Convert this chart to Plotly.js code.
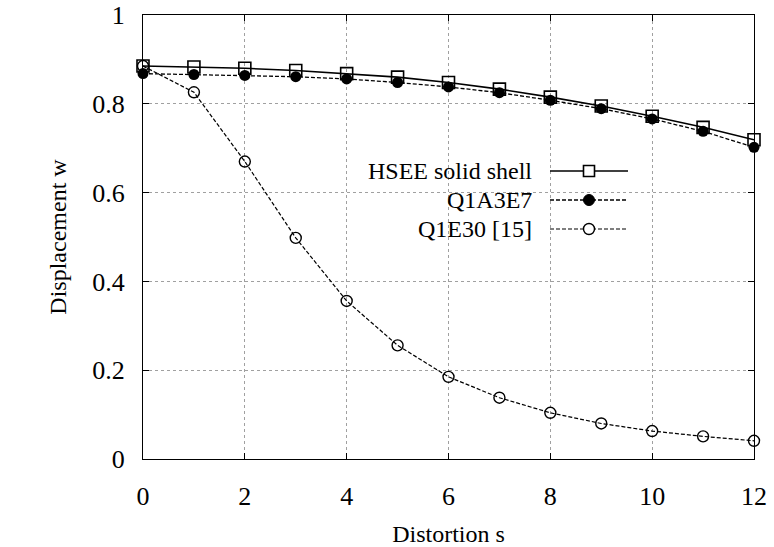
<!DOCTYPE html>
<html><head><meta charset="utf-8">
<script src="https://cdn.plot.ly/plotly-3.0.1.min.js"></script>
<style>html,body{margin:0;padding:0;background:#fff}</style>
</head><body><div id="chart" style="width:774px;height:547px"></div>
<script>
const distortion = [0,1,2,3,4,5,6,7,8,9,10,11,12];
const hsee = [0.885,0.883,0.880,0.875,0.868,0.860,0.848,0.833,0.815,0.795,0.772,0.747,0.719];
const q1a3e7 = [0.868,0.866,0.864,0.861,0.856,0.848,0.838,0.825,0.808,0.789,0.766,0.738,0.702];
const q1e30 = [0.885,0.826,0.670,0.498,0.356,0.256,0.185,0.138,0.104,0.080,0.063,0.051,0.041];
const seriesNames = ["HSEE solid shell","Q1A3E7","Q1E30 [15]"];
const xTicks = [0,2,4,6,8,10,12];
const yTicks = [0,0.2,0.4,0.6,0.8,1];
const yTickText = ["0","0.2","0.4","0.6","0.8","1"];

const FAM = "Times New Roman";
const traces = [
 {x:distortion,y:hsee,name:seriesNames[0],mode:"lines+markers",cliponaxis:false,
  line:{color:"#000",width:1.6},marker:{symbol:"square-open",size:12,color:"#000",line:{width:1.6}}},
 {x:distortion,y:q1a3e7,name:seriesNames[1],mode:"lines+markers",cliponaxis:false,
  line:{color:"#000",width:1.3,dash:"4px,2px"},marker:{symbol:"circle",size:11,color:"#000"}},
 {x:distortion,y:q1e30,name:seriesNames[2],mode:"lines+markers",cliponaxis:false,
  line:{color:"#000",width:1.2,dash:"4px,2px"},marker:{symbol:"circle-open",size:11,color:"#000",line:{width:1.4}}}
];

const PW = 774, PH = 547;
const plotL=143, plotR=754, plotT=15, plotB=459;
const styles = [{dash:"solid",w:1.6},{dash:"4px,2px",w:1.3},{dash:"4px,2px",w:1.2}];
const legY = [171,200,229];

const layout = {
  width:PW,height:PH,
  margin:{l:plotL,r:PW-plotR,t:plotT,b:PH-plotB},
  paper_bgcolor:"#fff",plot_bgcolor:"#fff",
  showlegend:false,
  font:{family:FAM,size:26,color:"#000"},
  xaxis:{range:[0,12],tickvals:xTicks,ticks:"inside",ticklen:6,tickcolor:"#000",
    showline:true,linecolor:"#000",linewidth:1,mirror:"ticks",
    showgrid:true,gridcolor:"#888",griddash:"dot",gridwidth:0.8,zeroline:false,
    ticklabelstandoff:14,tickfont:{family:FAM,size:26,color:"#000"},
    title:{text:"Distortion s",font:{family:FAM,size:24,color:"#000"},standoff:16}},
  yaxis:{range:[0,1],tickvals:yTicks,ticktext:yTickText,ticks:"inside",ticklen:6,tickcolor:"#000",
    showline:true,linecolor:"#000",linewidth:1,mirror:"ticks",
    showgrid:true,gridcolor:"#888",griddash:"dot",gridwidth:0.8,zeroline:false,
    ticklabelstandoff:12,tickfont:{family:FAM,size:26,color:"#000"},
    title:{text:"Displacement w",font:{family:FAM,size:24,color:"#000"},standoff:18}},
  annotations:[],shapes:[]
};
function px2x(p){return (p-plotL)/(plotR-plotL);}
function px2y(p){return (plotB-p)/(plotB-plotT);}
seriesNames.forEach((n,i)=>{
  const yy = px2y(legY[i]);
  layout.annotations.push({xref:"paper",yref:"paper",x:px2x(534),y:yy,text:n,showarrow:false,
    font:{family:FAM,size:24,color:"#000"},xanchor:"right",yanchor:"middle"});
  layout.shapes.push({type:"line",xref:"paper",yref:"paper",x0:px2x(550),x1:px2x(628),y0:yy,y1:yy,
    line:{color:"#000",width:styles[i].w,dash:styles[i].dash}});
});
const mx = px2x(589);
const rx = 5.5/(plotR-plotL), ry = 5.5/(plotB-plotT);
const ly0=px2y(legY[0]), ly1=px2y(legY[1]), ly2=px2y(legY[2]);
layout.shapes.push({type:"rect",xref:"paper",yref:"paper",x0:mx-rx,x1:mx+rx,y0:ly0-ry,y1:ly0+ry,line:{color:"#000",width:1.6},fillcolor:"#fff"});
layout.shapes.push({type:"circle",xref:"paper",yref:"paper",x0:mx-rx,x1:mx+rx,y0:ly1-ry,y1:ly1+ry,line:{color:"#000",width:1},fillcolor:"#000"});
layout.shapes.push({type:"circle",xref:"paper",yref:"paper",x0:mx-rx,x1:mx+rx,y0:ly2-ry,y1:ly2+ry,line:{color:"#000",width:1.4},fillcolor:"#fff"});

Plotly.newPlot("chart",traces,layout,{displayModeBar:false,staticPlot:true});
</script></body></html>
